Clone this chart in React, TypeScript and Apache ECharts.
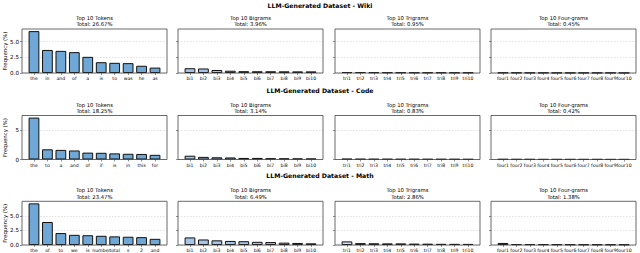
import React, { useEffect, useRef } from "react";
import * as echarts from "echarts";

// ---------- data ----------
const rowTitles = ["LLM-Generated Dataset - Wiki", "LLM-Generated Dataset - Code", "LLM-Generated Dataset - Math"];
const panelKinds = ["Tokens", "Bigrams", "Trigrams", "Four-grams"];

const wikiTokenLabels = ["the", "in", "and", "of", "a", "is", "to", "was", "he", "as"];
const codeTokenLabels = ["the", "to", "a", "and", "of", "if", "is", "in", "this", "for"];
const mathTokenLabels = ["the", "of", "to", "we", "is", "number", "total", "s", "2", "and"];
const bigramLabels = ["bi1", "bi2", "bi3", "bi4", "bi5", "bi6", "bi7", "bi8", "bi9", "bi10"];
const trigramLabels = ["tri1", "tri2", "tri3", "tri4", "tri5", "tri6", "tri7", "tri8", "tri9", "tri10"];
const fourgramLabels = ["four1", "four2", "four3", "four4", "four5", "four6", "four7", "four8", "four9", "four10"];

const wikiTokens = [6.67, 3.67, 3.52, 3.32, 2.57, 1.72, 1.62, 1.57, 1.15, 0.86];
const wikiBigrams = [0.76, 0.72, 0.48, 0.36, 0.29, 0.28, 0.28, 0.27, 0.26, 0.26];
const wikiTrigrams = [0.14, 0.13, 0.11, 0.1, 0.09, 0.08, 0.08, 0.08, 0.07, 0.07];
const wikiFourgrams = [0.06, 0.06, 0.05, 0.05, 0.04, 0.04, 0.04, 0.04, 0.04, 0.03];

const codeTokens = [7.19, 1.75, 1.65, 1.55, 1.18, 1.15, 1.05, 0.98, 0.95, 0.8];
const codeBigrams = [0.65, 0.45, 0.38, 0.35, 0.27, 0.27, 0.22, 0.2, 0.18, 0.17];
const codeTrigrams = [0.12, 0.1, 0.09, 0.09, 0.08, 0.08, 0.07, 0.07, 0.07, 0.06];
const codeFourgrams = [0.06, 0.05, 0.05, 0.04, 0.04, 0.04, 0.04, 0.04, 0.03, 0.03];

const mathTokens = [7.15, 3.95, 2.05, 1.75, 1.68, 1.58, 1.48, 1.42, 1.35, 1.06];
const mathBigrams = [1.3, 0.95, 0.8, 0.7, 0.65, 0.55, 0.5, 0.4, 0.35, 0.29];
const mathTrigrams = [0.62, 0.32, 0.3, 0.28, 0.28, 0.24, 0.23, 0.2, 0.2, 0.19];
const mathFourgrams = [0.35, 0.15, 0.14, 0.13, 0.12, 0.11, 0.1, 0.1, 0.09, 0.09];

const wikiTotals = ["26.67%", "3.96%", "0.95%", "0.45%"];
const codeTotals = ["18.25%", "3.14%", "0.83%", "0.42%"];
const mathTotals = ["23.47%", "6.49%", "2.86%", "1.38%"];

const yTicksWiki = [0, 2.5, 5];
const yTicksCode = [0, 5];
const yTicksMath = [0, 2.5, 5];
const yTickDecimals = [1, 0, 1];

// ---------- assembly ----------
const rows = [
  { labels: [wikiTokenLabels, bigramLabels, trigramLabels, fourgramLabels], values: [wikiTokens, wikiBigrams, wikiTrigrams, wikiFourgrams], totals: wikiTotals, ticks: yTicksWiki },
  { labels: [codeTokenLabels, bigramLabels, trigramLabels, fourgramLabels], values: [codeTokens, codeBigrams, codeTrigrams, codeFourgrams], totals: codeTotals, ticks: yTicksCode },
  { labels: [mathTokenLabels, bigramLabels, trigramLabels, fourgramLabels], values: [mathTokens, mathBigrams, mathTrigrams, mathFourgrams], totals: mathTotals, ticks: yTicksMath },
];

const COL_LEFT = [22, 178, 335, 491];
const PANEL_W = 145;
const ROW_TOP = [29, 115.5, 201.3];
const PANEL_H = 44;
const SUPTITLE_Y = [5, 90, 175.5];
const FILL = ["#6fa8d6", "#a6c5e6", "#cfdff1", "#e0ebf7"];
const FONT = "DejaVu Sans";

function buildOption() {
  const grid: any[] = [];
  const xAxis: any[] = [];
  const yAxis: any[] = [];
  const series: any[] = [];
  const graphic: any[] = [];
  const xMin = -0.89;
  const xMax = 9.89;
  const barW = (0.8 * PANEL_W) / (xMax - xMin);

  rows.forEach((row, r) => {
    const allMax = Math.max(...row.values.flat());
    const yMax = allMax * 1.05;
    graphic.push({
      type: "text",
      x: 320,
      y: SUPTITLE_Y[r],
      style: { text: rowTitles[r], font: `bold 6.2px '${FONT}'`, fill: "#000", textAlign: "center", textVerticalAlign: "middle" },
    });
    graphic.push({
      type: "text",
      x: 5,
      y: ROW_TOP[r] + PANEL_H / 2,
      rotation: Math.PI / 2,
      style: { text: "Frequency (%)", font: `5.4px '${FONT}'`, fill: "#000", textAlign: "center", textVerticalAlign: "middle" },
    });
    for (let c = 0; c < 4; c++) {
      const idx = r * 4 + c;
      const labels = row.labels[c];
      const cx = COL_LEFT[c] + PANEL_W / 2;
      graphic.push({
        type: "text",
        x: cx,
        y: ROW_TOP[r] - 11,
        style: { text: `Top 10 ${panelKinds[c]}`, font: `5.3px '${FONT}'`, fill: "#000", textAlign: "center", textVerticalAlign: "middle" },
      });
      graphic.push({
        type: "text",
        x: cx,
        y: ROW_TOP[r] - 4.6,
        style: { text: `Total: ${row.totals[c]}`, font: `5.3px '${FONT}'`, fill: "#000", textAlign: "center", textVerticalAlign: "middle" },
      });
      grid.push({
        left: COL_LEFT[c],
        top: ROW_TOP[r],
        width: PANEL_W,
        height: PANEL_H,
        show: true,
        borderColor: "#444",
        borderWidth: 0.8,
        backgroundColor: "transparent",
        z: 3,
      });
      const xTickVals = labels.map((_, i) => i);
      xAxis.push({
        type: "value",
        gridIndex: idx,
        min: xMin,
        max: xMax,
        axisLine: { show: false, onZero: false },
        axisTick: { show: true, customValues: xTickVals, length: 2, lineStyle: { color: "#444", width: 0.6 } },
        axisLabel: {
          show: true,
          customValues: xTickVals,
          formatter: (v: number) => labels[Math.round(v)] ?? "",
          fontSize: 4.6,
          fontFamily: FONT,
          color: "#000",
          margin: 3,
        },
        splitLine: { show: false },
      });
      yAxis.push({
        type: "value",
        gridIndex: idx,
        min: 0,
        max: yMax,
        interval: row.ticks[1],
        axisLine: { show: false, onZero: false },
        axisTick: { show: true, customValues: row.ticks, length: 2, lineStyle: { color: "#444", width: 0.6 } },
        axisLabel: {
          show: c === 0,
          customValues: row.ticks,
          formatter: (v: number) => v.toFixed(yTickDecimals[r]),
          fontSize: 5.6,
          fontFamily: FONT,
          color: "#000",
          margin: 3,
        },
        splitLine: { show: true, lineStyle: { color: "#cfcfcf", type: [1.5, 1.5], width: 0.6 } },
      });
      series.push({
        type: "bar",
        xAxisIndex: idx,
        yAxisIndex: idx,
        barWidth: barW,
        data: row.values[c].map((v, i) => [i, v]),
        itemStyle: { color: FILL[c], borderColor: "#111", borderWidth: 1 },
        z: 2,
      });
    }
  });

  return { animation: false, backgroundColor: "#fff", grid, xAxis, yAxis, series, graphic };
}

export default function App() {
  const ref = useRef<HTMLDivElement>(null);
  useEffect(() => {
    if (!ref.current) return;
    const chart = echarts.init(ref.current, undefined, { renderer: "svg" });
    chart.setOption(buildOption() as any);
    return () => chart.dispose();
  }, []);
  return <div ref={ref} style={{ position: "fixed", left: 0, top: 0, width: 640, height: 253 }} />;
}
